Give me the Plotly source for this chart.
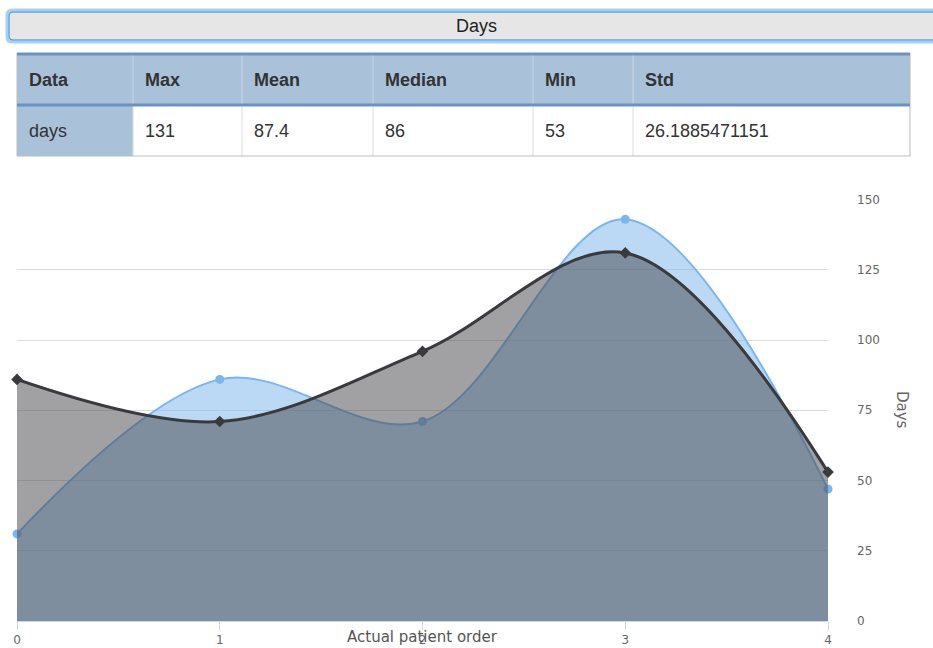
import plotly.graph_objects as go

# ---- data ----
patient_order = [0, 1, 2, 3, 4]
days_estimate = [31, 86, 71, 143, 47]
days_actual = [86, 71, 96, 131, 53]
y_ticks = [0, 25, 50, 75, 100, 125, 150]

table_header = ["Data", "Max", "Mean", "Median", "Min", "Std"]
table_row = ["days", "131", "87.4", "86", "53", "26.1885471151"]

# ---- page geometry (pixels) ----
W, H = 933, 648


def px(x):
    return x / W


def py(y):
    return 1 - y / H


col_edges = [17, 133, 242, 373, 533, 633, 910]
head_top, head_bot, row_bot = 53, 105, 156
plot_left, plot_right, plot_top, plot_bot = 17, 828, 199, 621

fig = go.Figure()

fig.add_trace(go.Scatter(
    x=patient_order, y=days_estimate, mode="lines+markers",
    line=dict(shape="spline", color="#7cb5ec", width=2),
    marker=dict(symbol="circle", size=9, color="#7cb5ec"),
    fill="tozeroy", fillcolor="rgba(124,181,236,0.52)",
    cliponaxis=False, showlegend=False, hoverinfo="skip",
))
fig.add_trace(go.Scatter(
    x=patient_order, y=days_actual, mode="lines+markers",
    line=dict(shape="spline", color="#3a3a3e", width=3),
    marker=dict(symbol="diamond", size=9, color="#3a3a3e"),
    fill="tozeroy", fillcolor="rgba(67,67,72,0.5)",
    cliponaxis=False, showlegend=False, hoverinfo="skip",
))

shapes = []
annotations = []


def label(x, y, text, size, color, family="Liberation Sans", xanchor="center", angle=0):
    annotations.append(dict(x=px(x), y=py(y), xref="paper", yref="paper",
                            xanchor=xanchor, yanchor="middle", text=text,
                            showarrow=False, textangle=angle,
                            font=dict(family=family, size=size, color=color)))


# ---- "Days" button ----
def rounded(x0, y0, x1, y1, r):
    X0, X1 = px(x0), px(x1)
    Y0, Y1 = py(y0), py(y1)
    rx, ry = r / W, r / H
    return (f"M {X0+rx},{Y0} L {X1-rx},{Y0} Q {X1},{Y0} {X1},{Y0-ry} "
            f"L {X1},{Y1+ry} Q {X1},{Y1} {X1-rx},{Y1} L {X0+rx},{Y1} "
            f"Q {X0},{Y1} {X0},{Y1+ry} L {X0},{Y0-ry} Q {X0},{Y0} {X0+rx},{Y0} Z")


shapes.append(dict(type="path", xref="paper", yref="paper",
                   path=rounded(7, 10, 945, 42, 5),
                   fillcolor="rgba(0,0,0,0)", line=dict(color="#a9d0f3", width=3)))
shapes.append(dict(type="path", xref="paper", yref="paper",
                   path=rounded(9, 12, 943, 40, 4),
                   fillcolor="#e6e6e6", line=dict(color="#5fa6e6", width=1.5)))
label(476, 26, "Days", 18, "#222")

# ---- stats table ----
shapes.append(dict(type="rect", xref="paper", yref="paper",
                   x0=px(col_edges[0]), x1=px(col_edges[-1]),
                   y0=py(head_top), y1=py(head_bot),
                   fillcolor="#aac1da", line=dict(width=0)))
shapes.append(dict(type="rect", xref="paper", yref="paper",
                   x0=px(col_edges[0]), x1=px(col_edges[1]),
                   y0=py(head_bot), y1=py(row_bot),
                   fillcolor="#aac1da", line=dict(width=0)))
for xe in col_edges[1:-1]:
    shapes.append(dict(type="line", xref="paper", yref="paper",
                       x0=px(xe), x1=px(xe), y0=py(head_top), y1=py(head_bot),
                       line=dict(color="#c9d7e6", width=1)))
    shapes.append(dict(type="line", xref="paper", yref="paper",
                       x0=px(xe), x1=px(xe), y0=py(head_bot), y1=py(row_bot),
                       line=dict(color="#dddddd", width=1)))
# outer border
for (x0, y0, x1, y1) in [(col_edges[0], head_top, col_edges[0], row_bot),
                         (col_edges[-1], head_top, col_edges[-1], row_bot),
                         (col_edges[0], row_bot, col_edges[-1], row_bot)]:
    shapes.append(dict(type="line", xref="paper", yref="paper",
                       x0=px(x0), x1=px(x1), y0=py(y0), y1=py(y1),
                       line=dict(color="#bbbbbb", width=1)))
# thick rules above and below the header row
for yy in (head_top + 1, head_bot):
    shapes.append(dict(type="line", xref="paper", yref="paper",
                       x0=px(col_edges[0]), x1=px(col_edges[-1]),
                       y0=py(yy), y1=py(yy),
                       line=dict(color="#6b93bf", width=3)))

for i in range(len(table_header)):
    label(col_edges[i] + 10, 80, f"<b>{table_header[i]}</b>", 18, "#333", xanchor="left")
    label(col_edges[i] + 10, 131, table_row[i], 18, "#333", xanchor="left")

# ---- axis titles ----
label(422, 637, "Actual patient order", 15, "#555", family="DejaVu Sans")
label(902, 410, "Days", 15, "#666", family="DejaVu Sans", angle=90)

fig.update_layout(
    width=W, height=H, autosize=False,
    margin=dict(l=0, r=0, t=0, b=0, pad=0),
    paper_bgcolor="white", plot_bgcolor="white",
    font=dict(family="DejaVu Sans", size=11, color="#666"),
    xaxis=dict(domain=[px(plot_left), px(plot_right)], range=[0, 4],
               tickvals=patient_order, showgrid=False, zeroline=False,
               showline=True, linecolor="#ccd6eb", linewidth=1,
               ticks="outside", ticklen=8, tickcolor="#ccd6eb",
               tickfont=dict(size=12, color="#666"), automargin=False),
    yaxis=dict(domain=[py(plot_bot), py(plot_top)], range=[0, 150.2], side="right",
               tickvals=y_ticks, showgrid=True, gridcolor="#dcdcdc", gridwidth=1,
               zeroline=False, showline=False, ticks="",
               ticklabelstandoff=28, automargin=False,
               tickfont=dict(size=12, color="#666")),
    shapes=shapes, annotations=annotations,
)

fig.write_html("out.html")
